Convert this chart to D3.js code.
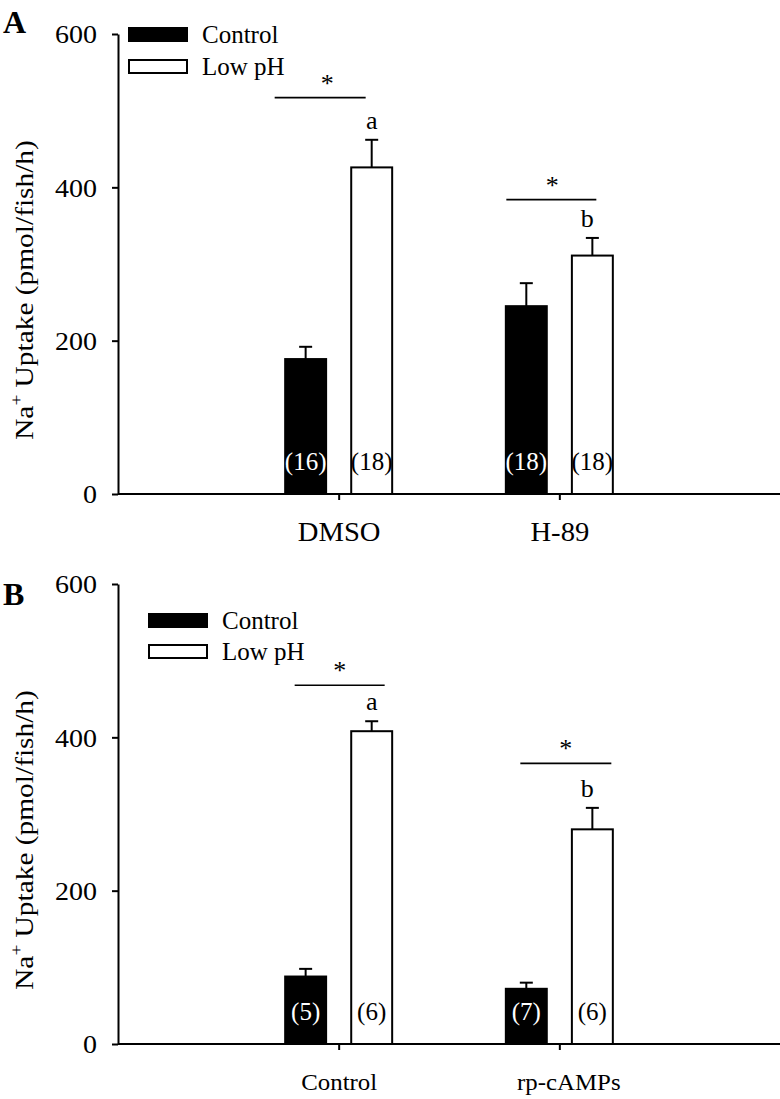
<!DOCTYPE html>
<html>
<head>
<meta charset="utf-8">
<script src="https://cdn.jsdelivr.net/npm/d3@7"></script>
<style>
  html, body { margin: 0; padding: 0; background: #fff; }
  svg { display: block; }
  text { font-family: "Liberation Serif", "Times New Roman", serif; fill: #000; }
</style>
</head>
<body>
<svg id="chart" width="780" height="1099"></svg>
<script>
// ---------- data ----------
const series = ["Control", "Low pH"];
const yTicks = [0, 200, 400, 600];

const groupsA = ["DMSO", "H-89"];
const controlA = [176, 245];
const controlErrA = [16, 30];
const lowPHA = [426, 311];
const lowPHErrA = [36, 23];
const nControlA = ["(16)", "(18)"];
const nLowPHA = ["(18)", "(18)"];
const lettersA = ["a", "b"];
const sigA = [517, 384];

const groupsB = ["Control", "rp-cAMPs"];
const controlB = [88, 72];
const controlErrB = [10, 8];
const lowPHB = [408, 280];
const lowPHErrB = [13, 28];
const nControlB = ["(5)", "(7)"];
const nLowPHB = ["(6)", "(6)"];
const lettersB = ["a", "b"];
const sigB = [468, 366];

// ---------- layout ----------
const svg = d3.select("#chart");
const X0 = 118, X1 = 780, PH = 460;

function stretch(sel, f) {
  sel.each(function () {
    const L = this.getComputedTextLength();
    d3.select(this).attr("textLength", L * f).attr("lengthAdjust", "spacingAndGlyphs");
  });
}

function drawPanel(cfg) {
  const g = svg.append("g").attr("transform", `translate(0,${cfg.top})`);
  const x = d3.scalePoint().domain(cfg.groups).range([X0, X1]).padding(1);
  const xs = d3.scaleBand().domain(series).range([-53.5, 53.5]).paddingInner(0.38);
  const y = d3.scaleLinear().domain([0, 600]).range([PH, 0]);

  const rows = cfg.groups.map((grp, i) => ({
    grp, i,
    bars: [
      { s: "Control", v: cfg.control[i], e: cfg.controlErr[i], n: cfg.nControl[i] },
      { s: "Low pH", v: cfg.lowPH[i], e: cfg.lowPHErr[i], n: cfg.nLowPH[i] }
    ]
  }));

  rows.forEach(r => {
    r.bars.forEach(b => {
      const cx = x(r.grp) + xs(b.s);
      g.append("rect")
        .attr("x", cx).attr("y", y(b.v))
        .attr("width", xs.bandwidth()).attr("height", y(0) - y(b.v))
        .attr("fill", b.s === "Control" ? "#000" : "#fff")
        .attr("stroke", "#000").attr("stroke-width", 2);
      const mx = cx + xs.bandwidth() / 2;
      g.append("line").attr("x1", mx).attr("x2", mx)
        .attr("y1", y(b.v)).attr("y2", y(b.v + b.e))
        .attr("stroke", "#000").attr("stroke-width", 2);
      g.append("line").attr("x1", mx - 6.5).attr("x2", mx + 6.5)
        .attr("y1", y(b.v + b.e)).attr("y2", y(b.v + b.e))
        .attr("stroke", "#000").attr("stroke-width", 2);
      g.append("text").attr("x", mx).attr("y", y(0) - 24)
        .attr("text-anchor", "middle").attr("font-size", 25)
        .style("fill", b.s === "Control" ? "#fff" : "#000")
        .text(b.n);
    });
    const lb = r.bars[1];
    const lx = x(r.grp) + xs("Low pH") + xs.bandwidth() / 2 + cfg.letterDx[r.i];
    g.append("text").attr("x", lx).attr("y", y(lb.v + lb.e) - 11)
      .attr("text-anchor", "middle").attr("font-size", 26)
      .text(cfg.letters[r.i]);
    const [o0, o1] = cfg.sigX[r.i];
    const sy = y(cfg.sig[r.i]);
    g.append("line").attr("x1", x(r.grp) + o0).attr("x2", x(r.grp) + o1)
      .attr("y1", sy).attr("y2", sy).attr("stroke", "#000").attr("stroke-width", 1.6);
    g.append("text").attr("x", x(r.grp) + (o0 + o1) / 2 + cfg.starDx[r.i]).attr("y", sy - 6)
      .attr("text-anchor", "middle").attr("font-size", 26).text("*");
  });

  // y axis
  const ya = g.append("g").attr("transform", `translate(${X0},0)`)
    .call(d3.axisLeft(y).tickValues(yTicks).tickSize(6).tickSizeOuter(0).tickPadding(15));
  ya.select(".domain").attr("stroke-width", 2);
  ya.selectAll(".tick line").attr("stroke-width", 2);
  ya.selectAll(".tick text").attr("font-size", 25).attr("font-family", "Liberation Serif").attr("dy", "0.35em");
  stretch(ya.selectAll(".tick text"), 1.12);

  // x axis
  const xa = g.append("g").attr("transform", `translate(0,${PH})`)
    .call(d3.axisBottom(x).tickSize(6).tickSizeOuter(0).tickPadding(0));
  xa.select(".domain").attr("stroke-width", 2).attr("d", `M${X0},0H${X1}`);
  xa.selectAll(".tick line").attr("stroke-width", 2);
  xa.selectAll(".tick text").attr("dy", null).attr("y", cfg.catY)
    .attr("font-size", cfg.catSize).attr("font-family", "Liberation Serif")
    .attr("dx", (d, i) => cfg.catDx[i]);
  stretch(xa.selectAll(".tick text"), cfg.catStretch);

  // y title
  const t = g.append("text")
    .attr("transform", `translate(33,${cfg.titleY}) rotate(-90)`)
    .attr("text-anchor", "middle").attr("font-size", 26);
  t.append("tspan").text("Na");
  t.append("tspan").attr("font-size", 17).attr("dy", -11).text("+");
  t.append("tspan").attr("dy", 11).text(" Uptake (pmol/fish/h)");
  stretch(t, 1.13);

  // panel letter
  g.append("text").attr("x", 3).attr("y", cfg.letterY)
    .attr("font-size", 32).attr("font-weight", "bold").text(cfg.label);

  // legend
  series.forEach((s, i) => {
    const ly = cfg.legY + i * cfg.legStep;
    g.append("rect").attr("x", cfg.legX).attr("y", ly).attr("width", 58).attr("height", 13)
      .attr("fill", s === "Control" ? "#000" : "#fff").attr("stroke", "#000").attr("stroke-width", 2);
    g.append("text").attr("x", cfg.legX + 73).attr("y", ly + 15)
      .attr("font-size", 25).text(s);
  });
}

drawPanel({
  top: 34, label: "A", letterY: -1,
  groups: groupsA, control: controlA, controlErr: controlErrA,
  lowPH: lowPHA, lowPHErr: lowPHErrA, nControl: nControlA, nLowPH: nLowPHA,
  letters: lettersA, sig: sigA, letterDx: [0, -5],
  sigX: [[-64, 27], [-53, 37]], starDx: [7, 1],
  catY: 47, catSize: 27, catStretch: 1.06, catDx: [0, 0],
  titleY: 256,
  legX: 129, legY: -6, legStep: 32
});

drawPanel({
  top: 584, label: "B", letterY: 21,
  groups: groupsB, control: controlB, controlErr: controlErrB,
  lowPH: lowPHB, lowPHErr: lowPHErrB, nControl: nControlB, nLowPH: nLowPHB,
  letters: lettersB, sig: sigB, letterDx: [0, -5],
  sigX: [[-44, 46], [-39, 52]], starDx: [0, 0],
  catY: 46, catSize: 23, catStretch: 1.08, catDx: [0, 9],
  titleY: 256,
  legX: 149, legY: 30, legStep: 31
});
</script>
</body>
</html>
